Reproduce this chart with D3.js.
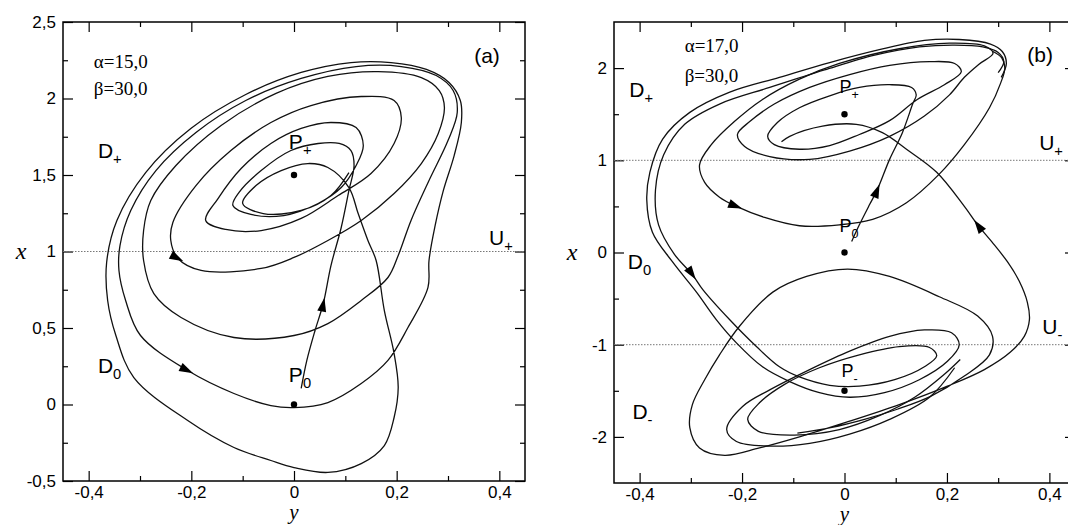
<!DOCTYPE html>
<html>
<head>
<meta charset="utf-8">
<script src="https://cdn.jsdelivr.net/npm/d3@7"></script>
<style>
body { margin: 0; background: #fff; }
</style>
</head>
<body>
<div id="chart"></div>
<script>
// ---------- panel (a) : alpha = 15 ----------
const aTicksX = [-0.4, -0.2, 0, 0.2, 0.4];
const aMinorX = [-0.3, -0.1, 0.1, 0.3];
const aTicksY = [-0.5, 0, 0.5, 1, 1.5, 2, 2.5];
const aMinorY = [-0.25, 0.25, 0.75, 1.25, 1.75, 2.25];
const aLevels = [1];
const aFixed = [[0, 1.5], [0, 0]];

// trajectory [y, x]
const aTrajectory = [[0.014,0.105],[0.025,0.288],[0.041,0.484],[0.057,0.66],[0.072,0.908],[0.092,1.157],[0.107,1.399],[0.117,1.562],[0.111,1.66],[0.088,1.706],[0.047,1.706],[-0.006,1.66],[-0.064,1.529],[-0.107,1.386],[-0.119,1.301],[-0.084,1.242],[-0.02,1.235],[0.047,1.314],[0.092,1.418],[0.121,1.562],[0.135,1.693],[0.121,1.81],[0.072,1.843],[0.014,1.804],[-0.045,1.706],[-0.103,1.542],[-0.148,1.346],[-0.172,1.203],[-0.133,1.144],[-0.064,1.137],[0.014,1.216],[0.086,1.366],[0.15,1.51],[0.195,1.706],[0.209,1.876],[0.195,1.987],[0.131,2.013],[0.033,1.954],[-0.045,1.843],[-0.123,1.66],[-0.191,1.431],[-0.236,1.19],[-0.24,1.072],[-0.226,0.954],[-0.181,0.876],[-0.064,0.889],[0,0.961],[0.066,1.072],[0.131,1.203],[0.195,1.379],[0.248,1.575],[0.281,1.771],[0.293,1.941],[0.283,2.052],[0.248,2.137],[0.164,2.176],[0.066,2.144],[-0.035,2.033],[-0.142,1.824],[-0.23,1.562],[-0.279,1.333],[-0.293,1.137],[-0.293,0.941],[-0.273,0.725],[-0.22,0.569],[-0.117,0.438],[0,0.451],[0.066,0.529],[0.131,0.68],[0.183,0.83],[0.203,0.974],[0.228,1.203],[0.263,1.464],[0.3,1.725],[0.318,1.908],[0.31,2.052],[0.277,2.15],[0.209,2.209],[0.121,2.209],[0.014,2.131],[-0.094,1.987],[-0.191,1.778],[-0.269,1.529],[-0.318,1.268],[-0.339,1.039],[-0.341,0.876],[-0.328,0.68],[-0.299,0.451],[-0.207,0.222],[-0.117,0.072],[-0.045,-0.007],[0,-0.02],[0.066,0.013],[0.131,0.137],[0.183,0.288],[0.222,0.503],[0.261,0.765],[0.263,0.941],[0.275,1.17],[0.291,1.399],[0.312,1.627],[0.326,1.843],[0.324,1.987],[0.302,2.105],[0.258,2.19],[0.189,2.235],[0.111,2.235],[0.014,2.17],[-0.094,2.026],[-0.201,1.804],[-0.289,1.516],[-0.345,1.203],[-0.365,0.928],[-0.363,0.68],[-0.347,0.451],[-0.312,0.176],[-0.207,-0.105],[-0.117,-0.281],[-0.045,-0.366],[0,-0.412],[0.066,-0.444],[0.131,-0.386],[0.176,-0.268],[0.195,-0.085],[0.203,0.111],[0.195,0.333],[0.176,0.614],[0.16,0.941],[0.144,1.072],[0.125,1.248],[0.107,1.418],[0.066,1.549],[0.027,1.575],[-0.025,1.529],[-0.074,1.431],[-0.1,1.314],[-0.06,1.248],[0.014,1.268],[0.072,1.366],[0.107,1.516]];

// arrow heads: [point, next point]
const aArrows = [
  [[-0.226, 0.954], [-0.181, 0.876]],
  [[-0.207, 0.222], [-0.117, 0.072]],
  [[0.057, 0.66], [0.072, 0.908]]
];

// ---------- panel (b) : alpha = 17 ----------
const bTicksX = [-0.4, -0.2, 0, 0.2, 0.4];
const bMinorX = [-0.3, -0.1, 0.1, 0.3];
const bTicksY = [-2, -1, 0, 1, 2];
const bMinorY = [-1.5, -0.5, 0.5, 1.5];
const bLevels = [1, -1];
const bFixed = [[0, 1.5], [0, 0], [0, -1.5]];

const bUp = [[0.014,0.12],[0.029,0.30],[0.049,0.52],[0.064,0.68],[0.088,1.01],[0.113,1.30],[0.133,1.61],[0.14,1.71],[0.131,1.79],[0.088,1.82],[0.029,1.79],[-0.029,1.70],[-0.088,1.57],[-0.131,1.41],[-0.15,1.26],[-0.137,1.17],[-0.088,1.12],[-0.029,1.16],[0.029,1.28],[0.088,1.43],[0.142,1.66],[0.195,1.82],[0.228,1.96],[0.215,2.05],[0.166,2.07],[0.088,2.03],[0.01,1.93],[-0.068,1.79],[-0.137,1.61],[-0.185,1.42],[-0.209,1.28],[-0.195,1.15],[-0.146,1.04],[-0.068,1.01],[0.01,1.10],[0.088,1.26],[0.156,1.48],[0.205,1.71],[0.234,1.90],[0.262,2.04],[0.29,2.16],[0.273,2.24],[0.205,2.27],[0.107,2.21],[-0.01,2.05],[-0.088,1.88],[-0.16,1.66],[-0.215,1.42],[-0.26,1.17],[-0.283,0.95],[-0.273,0.76],[-0.244,0.60],[-0.211,0.50],[-0.156,0.38],[-0.088,0.29],[-0.01,0.30],[0.055,0.36],[0.121,0.54],[0.185,0.85],[0.234,1.17],[0.283,1.57],[0.305,1.84],[0.313,2.0],[0.307,2.11],[0.29,2.18]];

const bOuter = [[0.306,1.9],[0.316,2.05],[0.308,2.18],[0.285,2.26],[0.224,2.31],[0.156,2.30],[0.068,2.20],[-0.029,2.06],[-0.127,1.90],[-0.224,1.74],[-0.302,1.52],[-0.355,1.23],[-0.38,0.87],[-0.386,0.57],[-0.375,0.22],[-0.336,-0.10],[-0.289,-0.43],[-0.25,-0.73],[-0.211,-0.98],[-0.16,-1.24],[-0.107,-1.40],[-0.049,-1.52],[0.01,-1.57],[0.078,-1.52],[0.146,-1.38],[0.201,-1.18],[0.224,-1.0],[0.209,-0.87],[0.156,-0.84],[0.088,-0.91],[0.01,-1.07],[-0.068,-1.27],[-0.146,-1.49],[-0.199,-1.67],[-0.23,-1.92],[-0.211,-2.05],[-0.146,-2.10],[-0.068,-2.07],[0.01,-1.97],[0.088,-1.81],[0.166,-1.57],[0.215,-1.25]];

const bInner = [[0.3,1.95],[0.311,2.07],[0.3,2.17],[0.27,2.23],[0.215,2.25],[0.146,2.23],[0.059,2.14],[-0.039,1.98],[-0.146,1.79],[-0.244,1.61],[-0.312,1.39],[-0.353,1.06],[-0.369,0.68],[-0.363,0.30],[-0.332,-0.02],[-0.297,-0.24],[-0.277,-0.40],[-0.224,-0.73],[-0.172,-1.02],[-0.127,-1.24],[-0.088,-1.35],[-0.029,-1.44],[0.029,-1.45],[0.098,-1.38],[0.156,-1.24],[0.18,-1.12],[0.166,-1.03],[0.107,-1.02],[0.029,-1.11],[-0.049,-1.25],[-0.117,-1.43],[-0.166,-1.63],[-0.189,-1.81],[-0.168,-1.94],[-0.098,-1.98],[-0.01,-1.92],[0.068,-1.77],[0.137,-1.57],[0.195,-1.32],[0.226,-1.16]];

const bCross = [[-0.123,1.2],[-0.107,1.26],[-0.043,1.37],[0.023,1.39],[0.074,1.30],[0.121,1.12],[0.18,0.87],[0.234,0.50],[0.26,0.30],[0.287,0.12],[0.318,-0.10],[0.341,-0.31],[0.357,-0.54],[0.361,-0.73],[0.351,-0.91],[0.324,-1.08],[0.273,-1.27],[0.201,-1.45],[0.107,-1.65],[0.01,-1.83],[-0.088,-2.0],[-0.166,-2.12],[-0.234,-2.2],[-0.283,-2.12],[-0.302,-1.90],[-0.297,-1.65],[-0.273,-1.38],[-0.244,-1.11],[-0.205,-0.80],[-0.14,-0.43],[-0.074,-0.26],[0.006,-0.18],[0.088,-0.26],[0.185,-0.48],[0.26,-0.69],[0.289,-0.91],[0.283,-1.11],[0.234,-1.34],[0.168,-1.56],[0.103,-1.70],[0.039,-1.81],[-0.027,-1.90],[-0.092,-1.96]];

const bArrows = [
  [[0.064, 0.68], [0.088, 1.01]],
  [[-0.211, 0.50], [-0.156, 0.38]],
  [[0.26, 0.30], [0.234, 0.50]],
  [[-0.297, -0.24], [-0.277, -0.40]]
];

// ---------- drawing ----------
const W = 1068, H = 525;
const svg = d3.select("#chart").append("svg")
  .attr("width", W).attr("height", H)
  .style("font-family", "'Liberation Serif', serif");

const fmt = d3.formatLocale({decimal: ",", thousands: ".", grouping: [3], currency: ["", ""], minus: "-"}).format("");

function cleanAxis(sel) {
  sel.select(".domain").remove();
  sel.selectAll(".tick line").attr("stroke", "#000").attr("stroke-width", 1.2);
  sel.selectAll(".tick text").attr("fill", "#000").style("font-size", "17px");
}

function drawPanel(p) {
  const x = p.x, y = p.y;
  const [x0, x1] = x.range();
  const [yb, yt] = y.range();
  const g = svg.append("g");

  svg.append("clipPath").attr("id", "clip-" + p.name)
    .append("rect").attr("x", x0).attr("y", yt).attr("width", x1 - x0).attr("height", yb - yt);

  // axes, ticks pointing inwards
  g.append("g").attr("transform", `translate(${x0},0)`)
    .call(d3.axisLeft(y).tickValues(p.ticksY).tickSize(-10).tickPadding(7).tickFormat(fmt)).call(cleanAxis);
  g.append("g").attr("transform", `translate(${x0},0)`)
    .call(d3.axisLeft(y).tickValues(p.minorY).tickSize(-5).tickFormat("")).call(cleanAxis);
  g.append("g").attr("transform", `translate(${x1},0)`)
    .call(d3.axisRight(y).tickValues(p.ticksY).tickSize(-10).tickFormat("")).call(cleanAxis);
  g.append("g").attr("transform", `translate(${x1},0)`)
    .call(d3.axisRight(y).tickValues(p.minorY).tickSize(-5).tickFormat("")).call(cleanAxis);
  g.append("g").attr("transform", `translate(0,${yb})`)
    .call(d3.axisBottom(x).tickValues(p.ticksX).tickSize(-10).tickPadding(5).tickFormat(fmt)).call(cleanAxis);
  g.append("g").attr("transform", `translate(0,${yb})`)
    .call(d3.axisBottom(x).tickValues(p.minorX).tickSize(-5).tickFormat("")).call(cleanAxis);
  g.append("g").attr("transform", `translate(0,${yt})`)
    .call(d3.axisTop(x).tickValues(p.ticksX).tickSize(-10).tickFormat("")).call(cleanAxis);
  g.append("g").attr("transform", `translate(0,${yt})`)
    .call(d3.axisTop(x).tickValues(p.minorX).tickSize(-5).tickFormat("")).call(cleanAxis);

  g.append("rect")
    .attr("x", x0).attr("y", yt).attr("width", x1 - x0).attr("height", yb - yt)
    .attr("fill", "none").attr("stroke", "#000").attr("stroke-width", 1.5);

  // dotted boundary planes
  g.selectAll(".level").data(p.levels).join("line")
    .attr("x1", x0).attr("x2", x1)
    .attr("y1", d => y(d)).attr("y2", d => y(d))
    .attr("stroke", "#777").attr("stroke-width", 1).attr("stroke-dasharray", "1.5,1.5");

  const line = d3.line().x(d => x(d[0])).y(d => y(d[1])).curve(d3.curveCatmullRom.alpha(0.5));
  g.append("g").attr("clip-path", `url(#clip-${p.name})`)
    .selectAll("path").data(p.curves).join("path")
    .attr("d", line).attr("fill", "none").attr("stroke", "#111").attr("stroke-width", 1.3);

  g.selectAll(".fixed").data(p.fixed).join("circle")
    .attr("cx", d => x(d[0])).attr("cy", d => y(d[1])).attr("r", 3.2).attr("fill", "#000");

  g.selectAll(".arrow").data(p.arrows).join("path")
    .attr("d", "M6,0L-8,-4.5L-8,4.5Z").attr("fill", "#000")
    .attr("transform", d => {
      const a = Math.atan2(y(d[1][1]) - y(d[0][1]), x(d[1][0]) - x(d[0][0])) * 180 / Math.PI;
      return `translate(${x(d[0][0])},${y(d[0][1])}) rotate(${a})`;
    });

  // parameter text
  p.params.forEach(t => {
    g.append("text").attr("x", x(t[1])).attr("y", y(t[2]))
      .style("font-size", "19px").text(t[0]);
  });

  // region / point labels with subscripts
  p.labels.forEach(t => {
    const txt = g.append("text").attr("x", x(t[2])).attr("y", y(t[3]))
      .style("font-family", "'Liberation Sans', Arial, sans-serif").style("font-size", t[4] + "px");
    txt.append("tspan").text(t[0]);
    if (t[1]) txt.append("tspan").attr("dy", 6).style("font-size", (t[4] * 0.7) + "px").text(t[1]);
  });

  // axis titles
  g.append("text").attr("x", x0 - 42).attr("y", y(p.titleAt) + 7)
    .style("font-style", "italic").style("font-size", "24px").attr("text-anchor", "middle").text("x");
  g.append("text").attr("x", x(0)).attr("y", yb + 38)
    .style("font-style", "italic").style("font-size", "21px").attr("text-anchor", "middle").text("y");
}

drawPanel({
  name: "a",
  x: d3.scaleLinear([-0.45, 0.45], [63, 525]),
  y: d3.scaleLinear([-0.5, 2.5], [481, 22]),
  ticksX: aTicksX, minorX: aMinorX, ticksY: aTicksY, minorY: aMinorY,
  levels: aLevels, fixed: aFixed, arrows: aArrows,
  curves: [aTrajectory],
  titleAt: 1,
  params: [["α=15,0", -0.39, 2.20], ["β=30,0", -0.39, 2.02]],
  labels: [
    ["(a)", "", 0.351, 2.229, 21],
    ["D", "+", -0.382, 1.614, 21],
    ["D", "0", -0.382, 0.209, 21],
    ["U", "+", 0.38, 1.04, 21],
    ["P", "+", -0.01, 1.667, 21],
    ["P", "0", -0.01, 0.144, 21]
  ]
});

drawPanel({
  name: "b",
  x: d3.scaleLinear([-0.45, 0.45], [614, 1075]),
  y: d3.scaleLinear([-2.5, 2.5], [483, 22]),
  ticksX: bTicksX, minorX: bMinorX, ticksY: bTicksY, minorY: bMinorY,
  levels: bLevels, fixed: bFixed, arrows: bArrows,
  curves: [bUp, bOuter, bInner, bCross],
  titleAt: 0,
  params: [["α=17,0", -0.312, 2.17], ["β=30,0", -0.312, 1.844]],
  labels: [
    ["(b)", "", 0.357, 2.07, 21],
    ["D", "+", -0.42, 1.69, 21],
    ["D", "0", -0.423, -0.184, 21],
    ["D", "-", -0.414, -1.81, 21],
    ["U", "+", 0.38, 1.117, 21],
    ["U", "-", 0.386, -0.889, 21],
    ["P", "+", -0.01, 1.735, 18],
    ["P", "0", -0.01, 0.217, 18],
    ["P", "-", -0.006, -1.345, 18]
  ]
});
</script>
</body>
</html>
